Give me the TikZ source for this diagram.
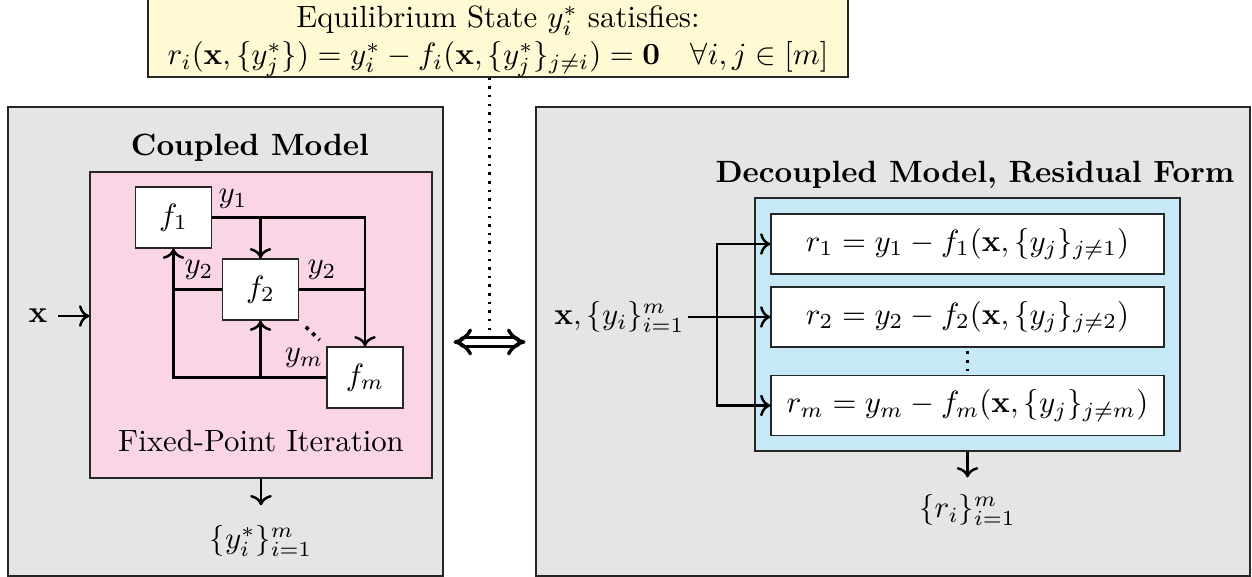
\documentclass[tikz,border=0pt]{standalone}
\usepackage{amssymb, amsmath}
\usepackage{tikz}
\usetikzlibrary{arrows.meta,positioning}
\definecolor{eqyellow}{RGB}{255,250,212}
\definecolor{panelgray}{RGB}{229,229,229}
\definecolor{fppink}{RGB}{249,213,230}
\definecolor{resblue}{RGB}{198,232,247}
\tikzset{
  panel/.style={draw=black!85,fill=panelgray,inner sep=0},
  fbox/.style={draw=black!85,fill=white,inner sep=0,minimum width=24.7pt,minimum height=19.8pt},
  rbox/.style={draw=black!85,fill=white,inner sep=0,minimum width=127.7pt,minimum height=19.5pt},
  flow/.style={thick,->},
  dots/.style={line width=1.2pt,dash pattern=on 1.2pt off 1.7pt},
}

\begin{document}
\begin{tikzpicture}[x=0.325pt,y=-0.325pt]
        \useasboundingbox (0,0) rectangle (1252,577);
        % equilibrium condition, box runs off the top of the page
        \node (eq) at (498,31) [draw=black!85,fill=eqyellow,inner sep=0,minimum width=227.5pt,align=center]
          {\rule{0pt}{14pt}Equilibrium State $y_i^*$ satisfies:\\ $r_i(\mathbf{x},\{y_j^*\})=y_i^*-f_i(\mathbf{x},\{y_j^*\}_{j\neq i})=\mathbf{0}\quad\forall i,j\in[m]$};
        % coupled model
        \node (cpl) at (225.5,341.5) [panel,minimum width=141.4pt,minimum height=152.4pt] {};
        \node (cpltitle) at (250,148) {\textbf{Coupled Model}};
        \node (fpi) at (261,325) [draw=black!85,fill=fppink,inner sep=0,minimum width=111.2pt,minimum height=99.5pt] {};
        \node (f1) at (173.5,217.5) [fbox] {$f_1$};
        \node (f2) at (260.5,289.5) [fbox] {$f_2$};
        \node (fm) at (365,377.5) [fbox] {$f_m$};
        \draw [flow] (f1.east) -| (fm.north);
        \draw [flow] (f1.east -| f2.north) -- (f2.north);
        \draw [thick] (f2.east) -- (f2.east -| fm.north);
        \draw [flow] (fm.west) -| (f1.south);
        \draw [thick] (f2.west) -- (f2.west -| f1.south);
        \draw [flow] (fm.west -| f2.south) -- (f2.south);
        \draw [dots,shorten <=3pt,shorten >=3pt] (f2.south east) -- (fm.north west);
        \node (y1) at (233,199) {$y_1$};
        \node (y2l) at (199,270) {$y_2$};
        \node (y2r) at (322,270) {$y_2$};
        \node (ym) at (304,358) {$y_m$};
        \node (xin) at (38,316) {$\mathbf{x}$};
        \draw [flow] (xin) -- (xin -| fpi.west);
        \node (fpilabel) at (261,441) {Fixed-Point Iteration};
        \node (ystar) at (261,541) {$\{y_i^*\}_{i=1}^m$};
        \draw [flow,shorten >=3pt] (fpi.south) -- (ystar.north);
        % equivalence
        \node (eqv) at (489.5,342) [inner sep=0,minimum width=23pt,minimum height=6pt] {};
        \draw [line width=1.1pt,double distance=1.8pt,line cap=round,{Implies[length=4pt,width=10pt]}-{Implies[length=4pt,width=10pt]}] (eqv.west) -- (eqv.east);
        \draw [thick,dotted] (eq.south -| eqv.center) -- (eqv.north);
        % decoupled model
        \node (dcpl) at (893,341.5) [panel,minimum width=232pt,minimum height=152.4pt] {};
        \node (dcpltitle) at (975,175) {\textbf{Decoupled Model, Residual Form}};
        \node (res) at (967.5,324.5) [draw=black!85,fill=resblue,inner sep=0,minimum width=138.1pt,minimum height=82.2pt] {};
        \node (r1) at (967.5,244) [rbox] {$r_1=y_1-f_1(\mathbf{x},\{y_j\}_{j\neq 1})$};
        \node (r2) at (967.5,317) [rbox] {$r_2=y_2-f_2(\mathbf{x},\{y_j\}_{j\neq 2})$};
        \node (rm) at (967.5,405.5) [rbox] {$r_m=y_m-f_m(\mathbf{x},\{y_j\}_{j\neq m})$};
        \draw [dots,shorten <=1pt,shorten >=1.1pt] (r2.south) -- (rm.north);
        \node (rin) at (688,317) [anchor=east,inner sep=1pt] {$\mathbf{x},\{y_i\}_{i=1}^m$};
        \coordinate (split) at (717,317);
        \draw [thick] (rin.east) -- (split);
        \draw [flow] (split) -- (r2.west);
        \draw [flow] (split) |- (r1.west);
        \draw [flow] (split) |- (rm.west);
        \node (rout) at (967.5,510) {$\{r_i\}_{i=1}^m$};
        \draw [flow,shorten >=2pt] (res.south) -- (rout.north);
      \end{tikzpicture}
\end{document}
